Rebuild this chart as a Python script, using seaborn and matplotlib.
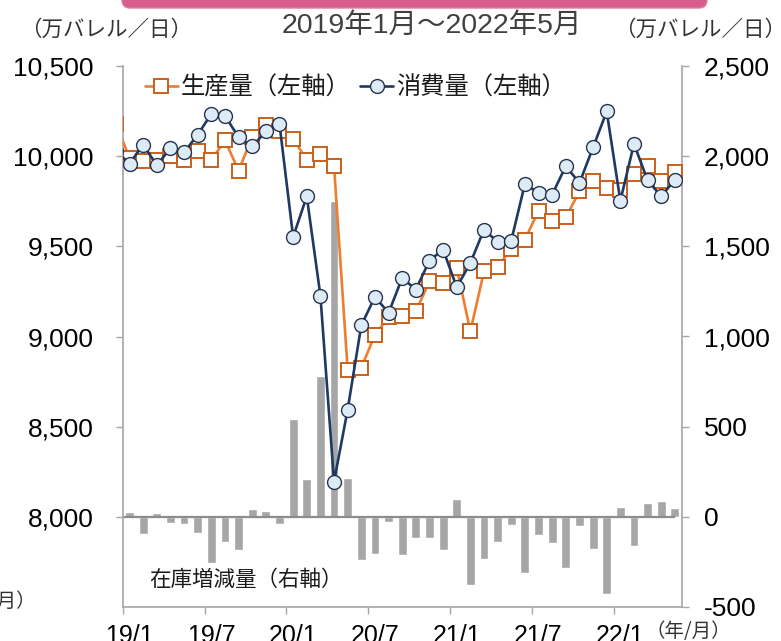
import numpy as np
import pandas as pd
import matplotlib
matplotlib.use("Agg")
import matplotlib.pyplot as plt
import seaborn as sns
from matplotlib.patches import FancyBboxPatch
from matplotlib.transforms import IdentityTransform

# months 2018/12 .. 2022/5 (first point only feeds the line entering from the left edge)
pos = list(range(-1, 41))
production = [10180,
              9990, 9971, 9980, 10003, 9980, 10027, 9977, 10088, 9920, 10106, 10171, 10137,
              10097, 9980, 10012, 9947, 8813, 8826, 9010, 9107, 9112, 9140, 9306, 9297,
              9380, 9029, 9361, 9386, 9487, 9537, 9698, 9642, 9660, 9805, 9864, 9824,
              9815, 9903, 9944, 9864, 9912]
consumption = [10030,
               9958, 10064, 9949, 10045, 10021, 10119, 10234, 10225, 10104, 10054, 10137, 10178,
               9552, 9777, 9227, 8195, 8595, 9062, 9220, 9131, 9325, 9260, 9421, 9482,
               9273, 9408, 9593, 9524, 9532, 9846, 9796, 9787, 9945, 9851, 10049, 10248,
               9753, 10068, 9866, 9777, 9870]
# inventory change, 2019/1 .. 2022/5 (right axis)
stock = [27, -93, 23, -36, -37, -91, -254, -137, -182, 45, 34, -42,
         540, 208, 780, 1753, 216, -237, -208, -29, -212, -119, -116, -184,
         101, -380, -232, -138, -45, -310, -101, -143, -282, -51, -180, -426,
         54, -162, 75, 86, 47]
tick_labels = ["19/1", "19/7", "20/1", "20/7", "21/1", "21/7", "22/1"]

lines_df = pd.DataFrame({"pos": pos, "production": production, "consumption": consumption})
bars_df = pd.DataFrame({"pos": list(range(len(stock))), "stock": stock})

sns.set_theme(style="white")
plt.rcParams["font.family"] = ["Liberation Sans", "Noto Sans CJK JP", "DejaVu Sans"]
cjk = ["Noto Sans CJK JP", "DejaVu Sans"]

fig = plt.figure(figsize=(7.81, 6.41), dpi=100)
ax = fig.add_axes([122.7 / 781, 1 - 607 / 641, (681.7 - 122.7) / 781, (607 - 66) / 641])
ax2 = ax.twinx()

# bars on the right axis
sns.barplot(data=bars_df, x="pos", y="stock", native_scale=True, width=0.65,
            color="#A6A6A6", saturation=1, errorbar=None, ax=ax2, zorder=2)
ax2.hlines(0, -0.5, 40, color="#8C8C8C", lw=1.6, zorder=3)

# lines on the left axis
sns.lineplot(data=lines_df, x="pos", y="production", ax=ax, color="#ED7D31", lw=1.9,
             marker="s", markersize=9.5, markerfacecolor="white", markeredgecolor="#C9601A",
             markeredgewidth=1.4, label="生産量（左軸）", zorder=3)
sns.lineplot(data=lines_df, x="pos", y="consumption", ax=ax, color="#1F3864", lw=1.9,
             marker="o", markersize=10, markerfacecolor="#DDEBF7", markeredgecolor="#27334D",
             markeredgewidth=1.0, label="消費量（左軸）", zorder=4)

ax.set_zorder(ax2.get_zorder() + 1)
ax.patch.set_visible(False)

ax.set_xlim(-0.5, 40.5)
ax.set_ylim(7500, 10500)
ax2.set_ylim(-500, 2500)
ax.set_xlabel("")
ax.set_ylabel("")
ax2.set_xlabel("")
ax2.set_ylabel("")

ax.set_yticks(np.arange(8000, 10501, 500))
ax.set_yticklabels([f"{v:,}" for v in range(8000, 10501, 500)])
ax2.set_yticks(np.arange(-500, 2501, 500))
ax2.set_yticklabels([f"{v:,}" for v in range(-500, 2501, 500)])

ax.set_xticks(np.arange(-0.5, 40, 6))
ax.set_xticklabels([""] * len(np.arange(-0.5, 40, 6)))
ax.set_xticks(np.arange(0, 41, 6), minor=True)
ax.set_xticklabels(tick_labels, minor=True)

grey = "#A6A6A6"
ax.tick_params(axis="y", direction="out", length=5, width=1, color=grey, pad=16,
               labelsize=19, labelcolor="black", left=True)
ax2.tick_params(axis="y", direction="out", length=5, width=1, color=grey, pad=11,
                labelsize=19, labelcolor="black", right=True)
ax.tick_params(axis="x", which="major", direction="out", length=5, width=1, color=grey, bottom=True)
ax.tick_params(axis="x", which="minor", length=0, pad=12, labelsize=18, labelcolor="black")

for a in (ax, ax2):
    a.spines["top"].set_visible(False)
ax.spines["right"].set_visible(False)
ax2.spines["left"].set_visible(False)
ax2.spines["bottom"].set_visible(False)
ax.spines["left"].set_color(grey)
ax.spines["bottom"].set_color(grey)
ax2.spines["right"].set_color(grey)
for s in ("left", "bottom"):
    ax.spines[s].set_linewidth(1.2)
ax2.spines["right"].set_linewidth(1.2)

leg = ax.legend(loc="center left", bbox_to_anchor=(145 / 781, 1 - 88 / 641),
                bbox_transform=fig.transFigure, ncol=2, frameon=False,
                borderpad=0, borderaxespad=0, handlelength=1.35, handletextpad=0.12,
                columnspacing=0.4, prop={"family": cjk, "size": 17.5})
for t in leg.get_texts():
    t.set_color("#1A1A1A")

# banner clipped at top
fig.patches.append(FancyBboxPatch((122, 633), 585, 40, boxstyle="round,pad=0,rounding_size=8",
                                  transform=IdentityTransform(), facecolor="#D95C8E",
                                  edgecolor="#E07AA2", lw=1))

fig.text(0.5525, 1 - 26 / 641, "2019年1月～2022年5月", ha="center", va="center",
         fontsize=20.5, color="#404040", family=["Liberation Sans", "Noto Sans CJK JP"])
fig.text(106 / 781, 1 - 30 / 641, "（万バレル／日）", ha="center", va="center",
         fontsize=15.5, color="#333333", family=cjk)
fig.text(700 / 781, 1 - 30 / 641, "（万バレル／日）", ha="center", va="center",
         fontsize=15.5, color="#333333", family=cjk)
fig.text(246 / 781, 1 - 580 / 641, "在庫増減量（右軸）", ha="center", va="center",
         fontsize=15.5, color="#1A1A1A", family=cjk)
fig.text(688 / 781, 1 - 631 / 641, "（年/月）", ha="center", va="center",
         fontsize=14, color="#333333", family=cjk)
fig.text(36 / 781, 1 - 601 / 641, "（年/月）", ha="right", va="center",
         fontsize=14, color="#333333", family=cjk)

fig.savefig("out.png", dpi=100)
